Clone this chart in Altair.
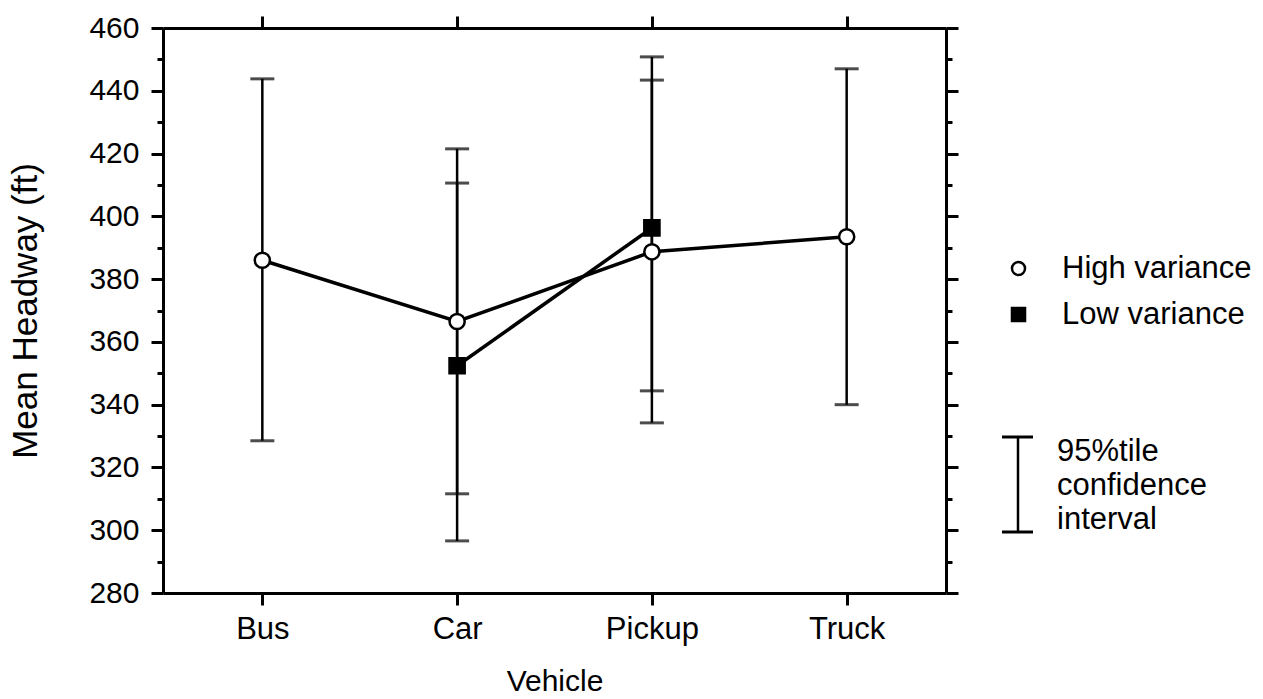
import altair as alt
import pandas as pd

# Mean headway by vehicle type, two variance conditions, with 95% confidence intervals
vehicles = ["Bus", "Car", "Pickup", "Truck"]

high_vehicle = ["Bus", "Car", "Pickup", "Truck"]
high_mean = [386.0, 366.5, 388.7, 393.5]
high_lo = [328.5, 311.6, 334.2, 340.0]
high_hi = [443.8, 421.5, 443.4, 447.0]

low_vehicle = ["Car", "Pickup"]
low_mean = [352.4, 396.3]
low_lo = [296.6, 344.4]
low_hi = [410.6, 450.8]

series_names = ["High variance", "Low variance"]

rows = []
for v, m, lo, hi in zip(high_vehicle, high_mean, high_lo, high_hi):
    rows.append({"Vehicle": v, "Series": series_names[0], "mean": m, "lo": lo, "hi": hi})
for v, m, lo, hi in zip(low_vehicle, low_mean, low_lo, low_hi):
    rows.append({"Vehicle": v, "Series": series_names[1], "mean": m, "lo": lo, "hi": hi})
df = pd.DataFrame(rows)

FONT = "Liberation Sans"
W, H = 783, 565

x_scale = alt.Scale(type="point", domain=vehicles, padding=0.51)
y_scale = alt.Scale(domain=[280, 460], nice=False, zero=False)
y_values = list(range(280, 461, 10))
major_tick = {"condition": {"test": "datum.value % 20 === 0", "value": 12}, "value": 6}

axis_common = dict(
    domainColor="black", domainWidth=3, tickColor="black", tickWidth=3,
    grid=False, labelColor="black", labelFont=FONT, titleFont=FONT,
    titleColor="black", titleFontWeight="normal",
)

x_bottom = alt.X("Vehicle:N", scale=x_scale, sort=vehicles, axis=alt.Axis(
    orient="bottom", tickSize=12, labelFontSize=31, labelPadding=9, labelAngle=0,
    title="Vehicle", titleFontSize=30, titlePadding=22, **axis_common))
y_left = alt.Y("lo:Q", scale=y_scale, axis=alt.Axis(
    orient="left", values=y_values, tickSize=major_tick,
    labelExpr="datum.value % 20 === 0 ? datum.label : ''",
    labelFontSize=30, labelPadding=12,
    title="Mean Headway (ft)", titleFontSize=35, titlePadding=45, **axis_common))

x_top = alt.X("Vehicle:N", scale=x_scale, sort=vehicles, axis=alt.Axis(
    orient="top", tickSize=12, labels=False, title=None, **axis_common))
y_right = alt.Y("hi:Q", scale=y_scale, axis=alt.Axis(
    orient="right", values=y_values, tickSize=major_tick, labels=False,
    title=None, **axis_common))

base = alt.Chart(df)

# vertical confidence-interval stems
stems = base.mark_rule(color="black", strokeWidth=2.5).encode(
    x=x_bottom, y=y_left, y2="hi:Q")

# caps at the interval ends
caps_hi = base.mark_tick(color="black", size=24, thickness=3).encode(
    x=x_top, y=y_right)
caps_lo = base.mark_tick(color="black", size=24, thickness=3).encode(
    x=alt.X("Vehicle:N", scale=x_scale, sort=vehicles, axis=None),
    y=alt.Y("lo:Q", scale=y_scale, axis=None))

lines = base.mark_line(color="black", strokeWidth=3.5).encode(
    x=alt.X("Vehicle:N", scale=x_scale, sort=vehicles, axis=None),
    y=alt.Y("mean:Q", scale=y_scale, axis=None),
    detail="Series:N")

series_legend = alt.Legend(title=None, labelLimit=400)
points = base.mark_point(filled=False, strokeWidth=2.5, opacity=1, fillOpacity=1,
                         size=230).encode(
    x=alt.X("Vehicle:N", scale=x_scale, sort=vehicles, axis=None),
    y=alt.Y("mean:Q", scale=y_scale, axis=None),
    shape=alt.Shape("Series:N", scale=alt.Scale(domain=series_names, range=["circle", "square"]),
                    legend=series_legend),
    fill=alt.Fill("Series:N", scale=alt.Scale(domain=series_names, range=["white", "black"]),
                  legend=series_legend),
    stroke=alt.Stroke("Series:N", scale=alt.Scale(domain=series_names, range=["black", "black"]),
                      legend=series_legend),
)

# key for the interval glyph
one = pd.DataFrame({"k": [0]})
key_stem = alt.Chart(one).mark_rule(color="black", strokeWidth=2.5).encode(
    x=alt.value(855), y=alt.value(409), y2=alt.value(504))
key_cap_top = alt.Chart(one).mark_rule(color="black", strokeWidth=3).encode(
    x=alt.value(839), x2=alt.value(870), y=alt.value(409))
key_cap_bot = alt.Chart(one).mark_rule(color="black", strokeWidth=3).encode(
    x=alt.value(839), x2=alt.value(870), y=alt.value(504))
key_text = alt.Chart(one).mark_text(
    align="left", baseline="middle", font=FONT, fontSize=31, lineHeight=34, color="black"
).encode(x=alt.value(894), y=alt.value(424),
         text=alt.value(["95%tile", "confidence", "interval"]))

chart = alt.layer(
    stems, caps_hi, caps_lo, lines, points, key_stem, key_cap_top, key_cap_bot, key_text
).resolve_axis(x="independent", y="independent").properties(
    width=W, height=H,
    padding={"left": 163, "top": 28, "right": 317, "bottom": 106},
    autosize=alt.AutoSizeParams(type="none"),
    background="white",
).configure_view(stroke=None).configure_legend(
    orient="none", legendX=840, legendY=225, symbolSize=170, symbolStrokeWidth=2.5,
    labelFont=FONT, labelFontSize=31, labelColor="black",
    labelOffset=28, labelLimit=400, rowPadding=14, padding=0,
)

chart.save("out.html", embed_options={"renderer": "svg", "actions": False})
